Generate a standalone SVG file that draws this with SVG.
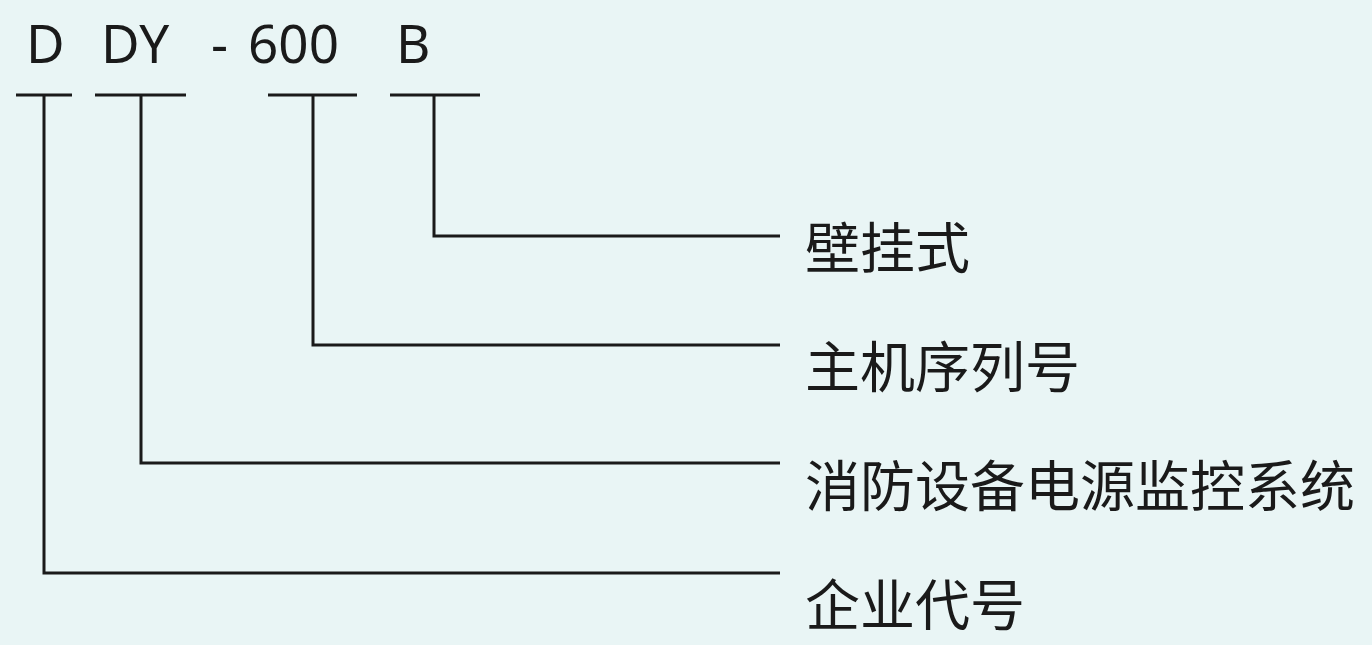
<svg xmlns="http://www.w3.org/2000/svg" width="1372" height="645" viewBox="0 0 1372 645">
<style>
.t{font-family:"Noto Sans","Noto Sans CJK SC",sans-serif;fill:#1a1a1a}
.c{font-size:53px}
.l{font-size:55px}
.ln{stroke:#1a1a1a;stroke-width:3;fill:none}
</style>
<rect width="1372" height="645" fill="#e9f5f5"/>
<g id="code">
<text class="t c" x="26" y="63">D</text>
<text class="t c" x="101" y="63">DY</text>
<text class="t c" x="211" y="63">-</text>
<text class="t c" x="248" y="63">600</text>
<text class="t c" x="396" y="63">B</text>
</g>
<g id="connectors" class="ln">
<path d="M16 95H72M95 95H186M268 95H357M390 95H480"/>
<path d="M434 95V236H780"/>
<path d="M313 95V345H780"/>
<path d="M141 95V463H780"/>
<path d="M44 95V573H780"/>
</g>
<g id="n1"><text class="t l" x="805" y="268">壁挂式</text></g>
<g id="n2"><text class="t l" x="805" y="387">主机序列号</text></g>
<g id="n3"><text class="t l" x="805" y="506">消防设备电源监控系统</text></g>
<g id="n4"><text class="t l" x="805" y="625">企业代号</text></g>
</svg>
